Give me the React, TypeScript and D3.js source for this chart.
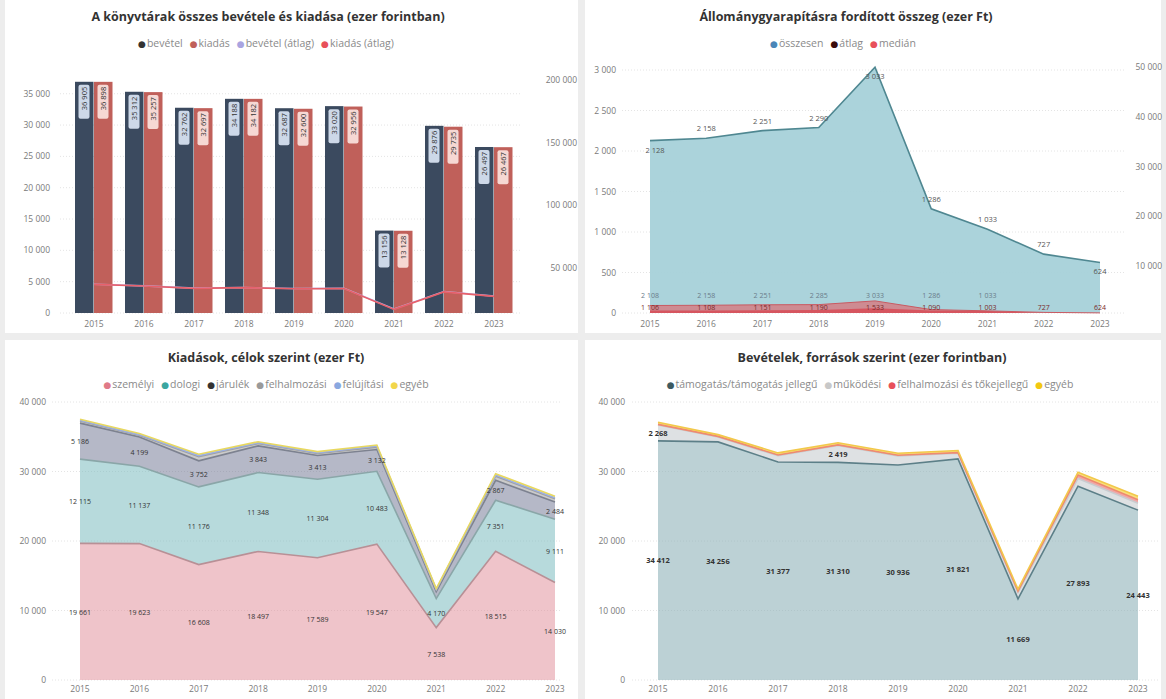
import React from "react";
import * as d3 from "d3";

const years = ["2015", "2016", "2017", "2018", "2019", "2020", "2021", "2022", "2023"];

// Top-left: total income / expenditure
const bevetel = [36905, 35312, 32762, 34188, 32687, 33020, 13156, 29876, 26497];
const kiadas = [36898, 35257, 32697, 34182, 32600, 32956, 13128, 29735, 26467];
const bevetelAtlag = [36600, 35300, 33500, 34000, 33200, 33300, 16800, 30800, 27100];
const kiadasAtlag = [36500, 35200, 33300, 33900, 33000, 33200, 16500, 30500, 26900];
const tlLeftTicks = [0, 5000, 10000, 15000, 20000, 25000, 30000, 35000];
const tlRightTicks = [50000, 100000, 150000, 200000];

// Top-right: acquisitions
const allOsszesen = [2128, 2158, 2251, 2290, 3033, 1286, 1033, 727, 624];
const allAtlag = [2108, 2158, 2251, 2285, 3033, 1286, 1033, 727, 624];
const allMedian = [1106, 1108, 1151, 1190, 1533, 1090, 1003, 610, 520];
const trLeftTicks = [0, 500, 1000, 1500, 2000, 2500, 3000];
const trRightTicks = [10000, 20000, 30000, 40000, 50000];

// Bottom-left: expenditure by purpose
const kSzemelyi = [19661, 19623, 16608, 18497, 17589, 19547, 7538, 18515, 14030];
const kDologi = [12115, 11137, 11176, 11348, 11304, 10483, 4170, 7351, 9111];
const kJarulek = [5186, 4199, 3752, 3843, 3413, 3132, 1012, 2867, 2484];
const kFelhalmozasi = [300, 250, 600, 350, 300, 350, 250, 600, 450];
const kFelujitasi = [100, 100, 150, 100, 100, 150, 80, 150, 150];
const kEgyeb = [150, 150, 200, 150, 150, 150, 100, 200, 200];

// Bottom-right: income by source
const bTamogatas = [34412, 34256, 31377, 31310, 30936, 31821, 11669, 27893, 24443];
const bMukodesi = [2268, 700, 900, 2419, 1300, 800, 900, 1100, 1000];
const bFelhalmozasi = [100, 100, 100, 100, 100, 100, 200, 500, 500];
const bEgyeb = [300, 250, 300, 300, 300, 300, 300, 400, 500];
const bottomTicks = [0, 10000, 20000, 30000, 40000];

const loc = d3.formatLocale({ decimal: ",", thousands: " ", grouping: [3], currency: ["", ""] });
const fmt = loc.format(",");

const FONT = "'Open Sans', 'DejaVu Sans', sans-serif";
const AXIS = "#7a7a7a";
const GRID = "#e4e4e4";

type LegendItem = { label: string; color: string };

function Legend({ items, x, y }: { items: LegendItem[]; x: number; y: number }) {
  return (
    <text x={x} y={y} textAnchor="middle" fontFamily={FONT} fontSize={10.5} fill="#8a8a8a">
      {items.map((it, i) => (
        <React.Fragment key={i}>
          <tspan fill={it.color} fontSize={9} dx={i > 0 ? 7 : 0}>●</tspan>
          <tspan dx={1}>{it.label}</tspan>
        </React.Fragment>
      ))}
    </text>
  );
}

function Title({ text, x, y }: { text: string; x: number; y: number }) {
  return (
    <text x={x} y={y} textAnchor="middle" fontFamily={FONT} fontSize={12.5} fontWeight={700} fill="#333">
      {text}
    </text>
  );
}

function TopLeft() {
  const x = d3.scaleBand<string>().domain(years).range([69, 519]).paddingInner(0.24).paddingOuter(0.12);
  const y = d3.scaleLinear().domain([0, 40000]).range([313, 62.4]);
  const yR = d3.scaleLinear().domain([0, 200000]).range([330, 80]);
  const bw = x.bandwidth() / 2;
  const line = d3
    .line<number>()
    .x((_, i) => (x(years[i]) as number) + bw)
    .y((d) => yR(d));
  return (
    <g>
      <Title text="A könyvtárak összes bevétele és kiadása (ezer forintban)" x={268} y={21} />
      <Legend
        x={266}
        y={47}
        items={[
          { label: "bevétel", color: "#333" },
          { label: "kiadás", color: "#c0605a" },
          { label: "bevétel (átlag)", color: "#a9a4e0" },
          { label: "kiadás (átlag)", color: "#e8505a" },
        ]}
      />
      {tlLeftTicks.map((t) => (
        <g key={t}>
          <line x1={60} x2={522} y1={y(t)} y2={y(t)} stroke={GRID} strokeDasharray="1,2" />
          <text x={50} y={y(t) + 3} textAnchor="end" fontFamily={FONT} fontSize={8.5} fill={AXIS}>
            {fmt(t)}
          </text>
        </g>
      ))}
      {tlRightTicks.map((t) => (
        <text key={t} x={577} y={yR(t) + 3} textAnchor="end" fontFamily={FONT} fontSize={8.5} fill={AXIS}>
          {fmt(t)}
        </text>
      ))}
      {years.map((yr, i) => {
        const x0 = x(yr) as number;
        const bars = [
          { v: bevetel[i], c: "#3b4a5f", box: "#cdd8e8", x: x0 },
          { v: kiadas[i], c: "#c0605a", box: "#f6d8d3", x: x0 + bw },
        ];
        return (
          <g key={yr}>
            {bars.map((b, j) => (
              <g key={j}>
                <rect x={b.x} y={y(b.v)} width={bw - 0.5} height={y(0) - y(b.v)} fill={b.c} />
                <rect x={b.x + bw / 2 - 6} y={y(b.v) + 3} width={11} height={34} rx={2} fill={b.box} />
                <text
                  transform={`translate(${b.x + bw / 2 - 0.5},${y(b.v) + 5}) rotate(-90)`}
                  textAnchor="end"
                  dominantBaseline="central"
                  fontFamily={FONT}
                  fontSize={7.5}
                  fill="#333"
                >
                  {fmt(b.v)}
                </text>
              </g>
            ))}
            <text x={x0 + bw} y={327} textAnchor="middle" fontFamily={FONT} fontSize={8.5} fill={AXIS}>
              {yr}
            </text>
          </g>
        );
      })}
      <path d={line(bevetelAtlag) as string} fill="none" stroke="#b8b2ea" strokeWidth={1.6} />
      <path d={line(kiadasAtlag) as string} fill="none" stroke="#e8606a" strokeWidth={1.6} />
    </g>
  );
}

function TopRight() {
  const x = d3.scalePoint<string>().domain(years).range([650, 1100]);
  const y = d3.scaleLinear().domain([0, 3000]).range([313, 70]);
  const yR = d3.scaleLinear().domain([0, 50000]).range([316, 67]);
  const base = y(0);
  const area = (sc: (v: number) => number) =>
    d3
      .area<number>()
      .x((_, i) => x(years[i]) as number)
      .y0(base)
      .y1((d) => Math.min(base, sc(d)));
  const line = (sc: (v: number) => number) =>
    d3
      .line<number>()
      .x((_, i) => x(years[i]) as number)
      .y((d) => Math.min(base, sc(d)));
  const below = [0, 4, 8];
  return (
    <g>
      <Title text="Állománygyarapításra fordított összeg (ezer Ft)" x={846} y={21} />
      <Legend
        x={843}
        y={47}
        items={[
          { label: "összesen", color: "#4a86b8" },
          { label: "átlag", color: "#3a0c0c" },
          { label: "medián", color: "#e8505a" },
        ]}
      />
      {trLeftTicks.map((t) => (
        <g key={t}>
          <line x1={622} x2={1125} y1={y(t)} y2={y(t)} stroke={GRID} strokeDasharray="1,2" />
          <text x={616} y={y(t) + 3} textAnchor="end" fontFamily={FONT} fontSize={8.5} fill={AXIS}>
            {fmt(t)}
          </text>
        </g>
      ))}
      {trRightTicks.map((t) => (
        <text key={t} x={1162} y={yR(t) + 3} textAnchor="end" fontFamily={FONT} fontSize={8.5} fill={AXIS}>
          {fmt(t)}
        </text>
      ))}
      <path d={area(y)(allOsszesen) as string} fill="#a6d1d9" fillOpacity={0.95} />
      <path d={line(y)(allOsszesen) as string} fill="none" stroke="#4f8791" strokeWidth={1.6} />
      <path d={area(yR)(allAtlag) as string} fill="#d9737a" fillOpacity={0.75} />
      <path d={area(yR)(allMedian) as string} fill="#d8434d" fillOpacity={0.75} />
      <path d={line(yR)(allAtlag) as string} fill="none" stroke="#c95a62" strokeWidth={1} />
      {years.map((yr, i) => (
        <g key={yr}>
          <text
            x={(x(yr) as number) + (i === 0 ? 5 : 0)}
            y={below.includes(i) ? y(allOsszesen[i]) + 12 : y(allOsszesen[i]) - 7}
            textAnchor="middle"
            fontFamily={FONT}
            fontSize={7.5}
            fill="#555"
          >
            {fmt(allOsszesen[i])}
          </text>
          {i < 7 && (
            <text x={x(yr) as number} y={298} textAnchor="middle" fontFamily={FONT} fontSize={7} fill="#6a7c8a">
              {fmt(allAtlag[i])}
            </text>
          )}
          <text x={x(yr) as number} y={310} textAnchor="middle" fontFamily={FONT} fontSize={7} fill="#7a2a2a">
            {fmt(i < 7 ? allMedian[i] : allAtlag[i])}
          </text>
          <text x={x(yr) as number} y={327} textAnchor="middle" fontFamily={FONT} fontSize={8.5} fill={AXIS}>
            {yr}
          </text>
        </g>
      ))}
    </g>
  );
}

type Series = { name: string; values: number[]; color: string; fillOpacity: number; stroke: string };

function StackedArea({
  series,
  x0,
  x1,
  gridX0,
  gridX1,
  labelX,
  labelled,
  labelFont,
  labelWeight,
}: {
  series: Series[];
  x0: number;
  x1: number;
  gridX0: number;
  gridX1: number;
  labelX: number;
  labelled: { s: number; idx: number[] }[];
  labelFont: number;
  labelWeight: number;
}) {
  const x = d3.scalePoint<string>().domain(years).range([x0, x1]);
  const y = d3.scaleLinear().domain([0, 40000]).range([680, 402]);
  const rows = years.map((yr, i) => {
    const r: Record<string, number> = {};
    series.forEach((s) => (r[s.name] = s.values[i]));
    return r;
  });
  const stacked = d3.stack<Record<string, number>>().keys(series.map((s) => s.name))(rows);
  const area = d3
    .area<d3.SeriesPoint<Record<string, number>>>()
    .x((_, i) => x(years[i]) as number)
    .y0((d) => y(d[0]))
    .y1((d) => y(d[1]));
  const line = d3
    .line<d3.SeriesPoint<Record<string, number>>>()
    .x((_, i) => x(years[i]) as number)
    .y((d) => y(d[1]));
  return (
    <g>
      {bottomTicks.map((t) => (
        <g key={t}>
          <line x1={gridX0} x2={gridX1} y1={y(t)} y2={y(t)} stroke={GRID} strokeDasharray="1,2" />
          <text x={labelX} y={y(t) + 3} textAnchor="end" fontFamily={FONT} fontSize={8.5} fill={AXIS}>
            {fmt(t)}
          </text>
        </g>
      ))}
      {stacked.map((st, k) => (
        <path key={k} d={area(st) as string} fill={series[k].color} fillOpacity={series[k].fillOpacity} />
      ))}
      {stacked.map((st, k) => (
        <path key={"l" + k} d={line(st) as string} fill="none" stroke={series[k].stroke} strokeWidth={1.6} />
      ))}
      {labelled.map(({ s, idx }) =>
        idx.map((i) => {
          const p = stacked[s][i];
          return (
            <text
              key={s + "-" + i}
              x={x(years[i]) as number}
              y={y((p[0] + p[1]) / 2) + 3}
              textAnchor="middle"
              fontFamily={FONT}
              fontSize={labelFont}
              fontWeight={labelWeight}
              fill="#333"
            >
              {fmt(series[s].values[i])}
            </text>
          );
        })
      )}
      {years.map((yr) => (
        <text key={yr} x={x(yr) as number} y={692} textAnchor="middle" fontFamily={FONT} fontSize={8.5} fill={AXIS}>
          {yr}
        </text>
      ))}
    </g>
  );
}

function BottomLeft() {
  const series: Series[] = [
    { name: "személyi", values: kSzemelyi, color: "#e08a96", fillOpacity: 0.5, stroke: "#b89096" },
    { name: "dologi", values: kDologi, color: "#7cbcbf", fillOpacity: 0.55, stroke: "#8aa6a8" },
    { name: "járulék", values: kJarulek, color: "#6c7290", fillOpacity: 0.5, stroke: "#7d8290" },
    { name: "felhalmozási", values: kFelhalmozasi, color: "#a8a8a8", fillOpacity: 0.6, stroke: "#a0a0a0" },
    { name: "felújítási", values: kFelujitasi, color: "#9ab0e8", fillOpacity: 0.6, stroke: "#9ab0e8" },
    { name: "egyéb", values: kEgyeb, color: "#f0e070", fillOpacity: 0.6, stroke: "#e8d860" },
  ];
  const all = years.map((_, i) => i);
  return (
    <g>
      <Title text="Kiadások, célok szerint (ezer Ft)" x={266} y={362} />
      <Legend
        x={266}
        y={388}
        items={[
          { label: "személyi", color: "#e07a88" },
          { label: "dologi", color: "#3ba6a0" },
          { label: "járulék", color: "#333" },
          { label: "felhalmozási", color: "#9a9a9a" },
          { label: "felújítási", color: "#8aa8e0" },
          { label: "egyéb", color: "#f2d64b" },
        ]}
      />
      <StackedArea
        series={series}
        x0={80}
        x1={555}
        gridX0={52}
        gridX1={562}
        labelX={46}
        labelled={[
          { s: 0, idx: all },
          { s: 1, idx: all },
          { s: 2, idx: [0, 1, 2, 3, 4, 5, 7, 8] },
        ]}
        labelFont={7}
        labelWeight={400}
      />
    </g>
  );
}

function BottomRight() {
  const series: Series[] = [
    { name: "támogatás", values: bTamogatas, color: "#8fb2b9", fillOpacity: 0.6, stroke: "#5c7f88" },
    { name: "működési", values: bMukodesi, color: "#d6d9dc", fillOpacity: 0.8, stroke: "#c8ccd0" },
    { name: "felhalmozási", values: bFelhalmozasi, color: "#e66c6c", fillOpacity: 0.6, stroke: "#ef8a70" },
    { name: "egyéb", values: bEgyeb, color: "#f2c811", fillOpacity: 0.55, stroke: "#f2c84b" },
  ];
  return (
    <g>
      <Title text="Bevételek, források szerint (ezer forintban)" x={872} y={362} />
      <Legend
        x={870}
        y={388}
        items={[
          { label: "támogatás/támogatás jellegű", color: "#3d5a60" },
          { label: "működési", color: "#c8c8c8" },
          { label: "felhalmozási és tőkejellegű", color: "#e8505a" },
          { label: "egyéb", color: "#f2c811" },
        ]}
      />
      <StackedArea
        series={series}
        x0={658}
        x1={1138}
        gridX0={632}
        gridX1={1160}
        labelX={625}
        labelled={[
          { s: 0, idx: years.map((_, i) => i) },
          { s: 1, idx: [0, 3] },
        ]}
        labelFont={7.5}
        labelWeight={700}
      />
    </g>
  );
}

export default function App() {
  return (
    <svg
      width={1166}
      height={699}
      viewBox="0 0 1166 699"
      style={{ position: "absolute", left: 0, top: 0, display: "block" }}
    >
      <rect x={0} y={0} width={1166} height={699} fill="#ededed" />
      <rect x={5} y={0} width={573} height={333} fill="#ffffff" />
      <rect x={585} y={0} width={576} height={333} fill="#ffffff" />
      <rect x={5} y={340} width={573} height={359} fill="#ffffff" />
      <rect x={585} y={340} width={576} height={359} fill="#ffffff" />
      <TopLeft />
      <TopRight />
      <BottomLeft />
      <BottomRight />
    </svg>
  );
}
